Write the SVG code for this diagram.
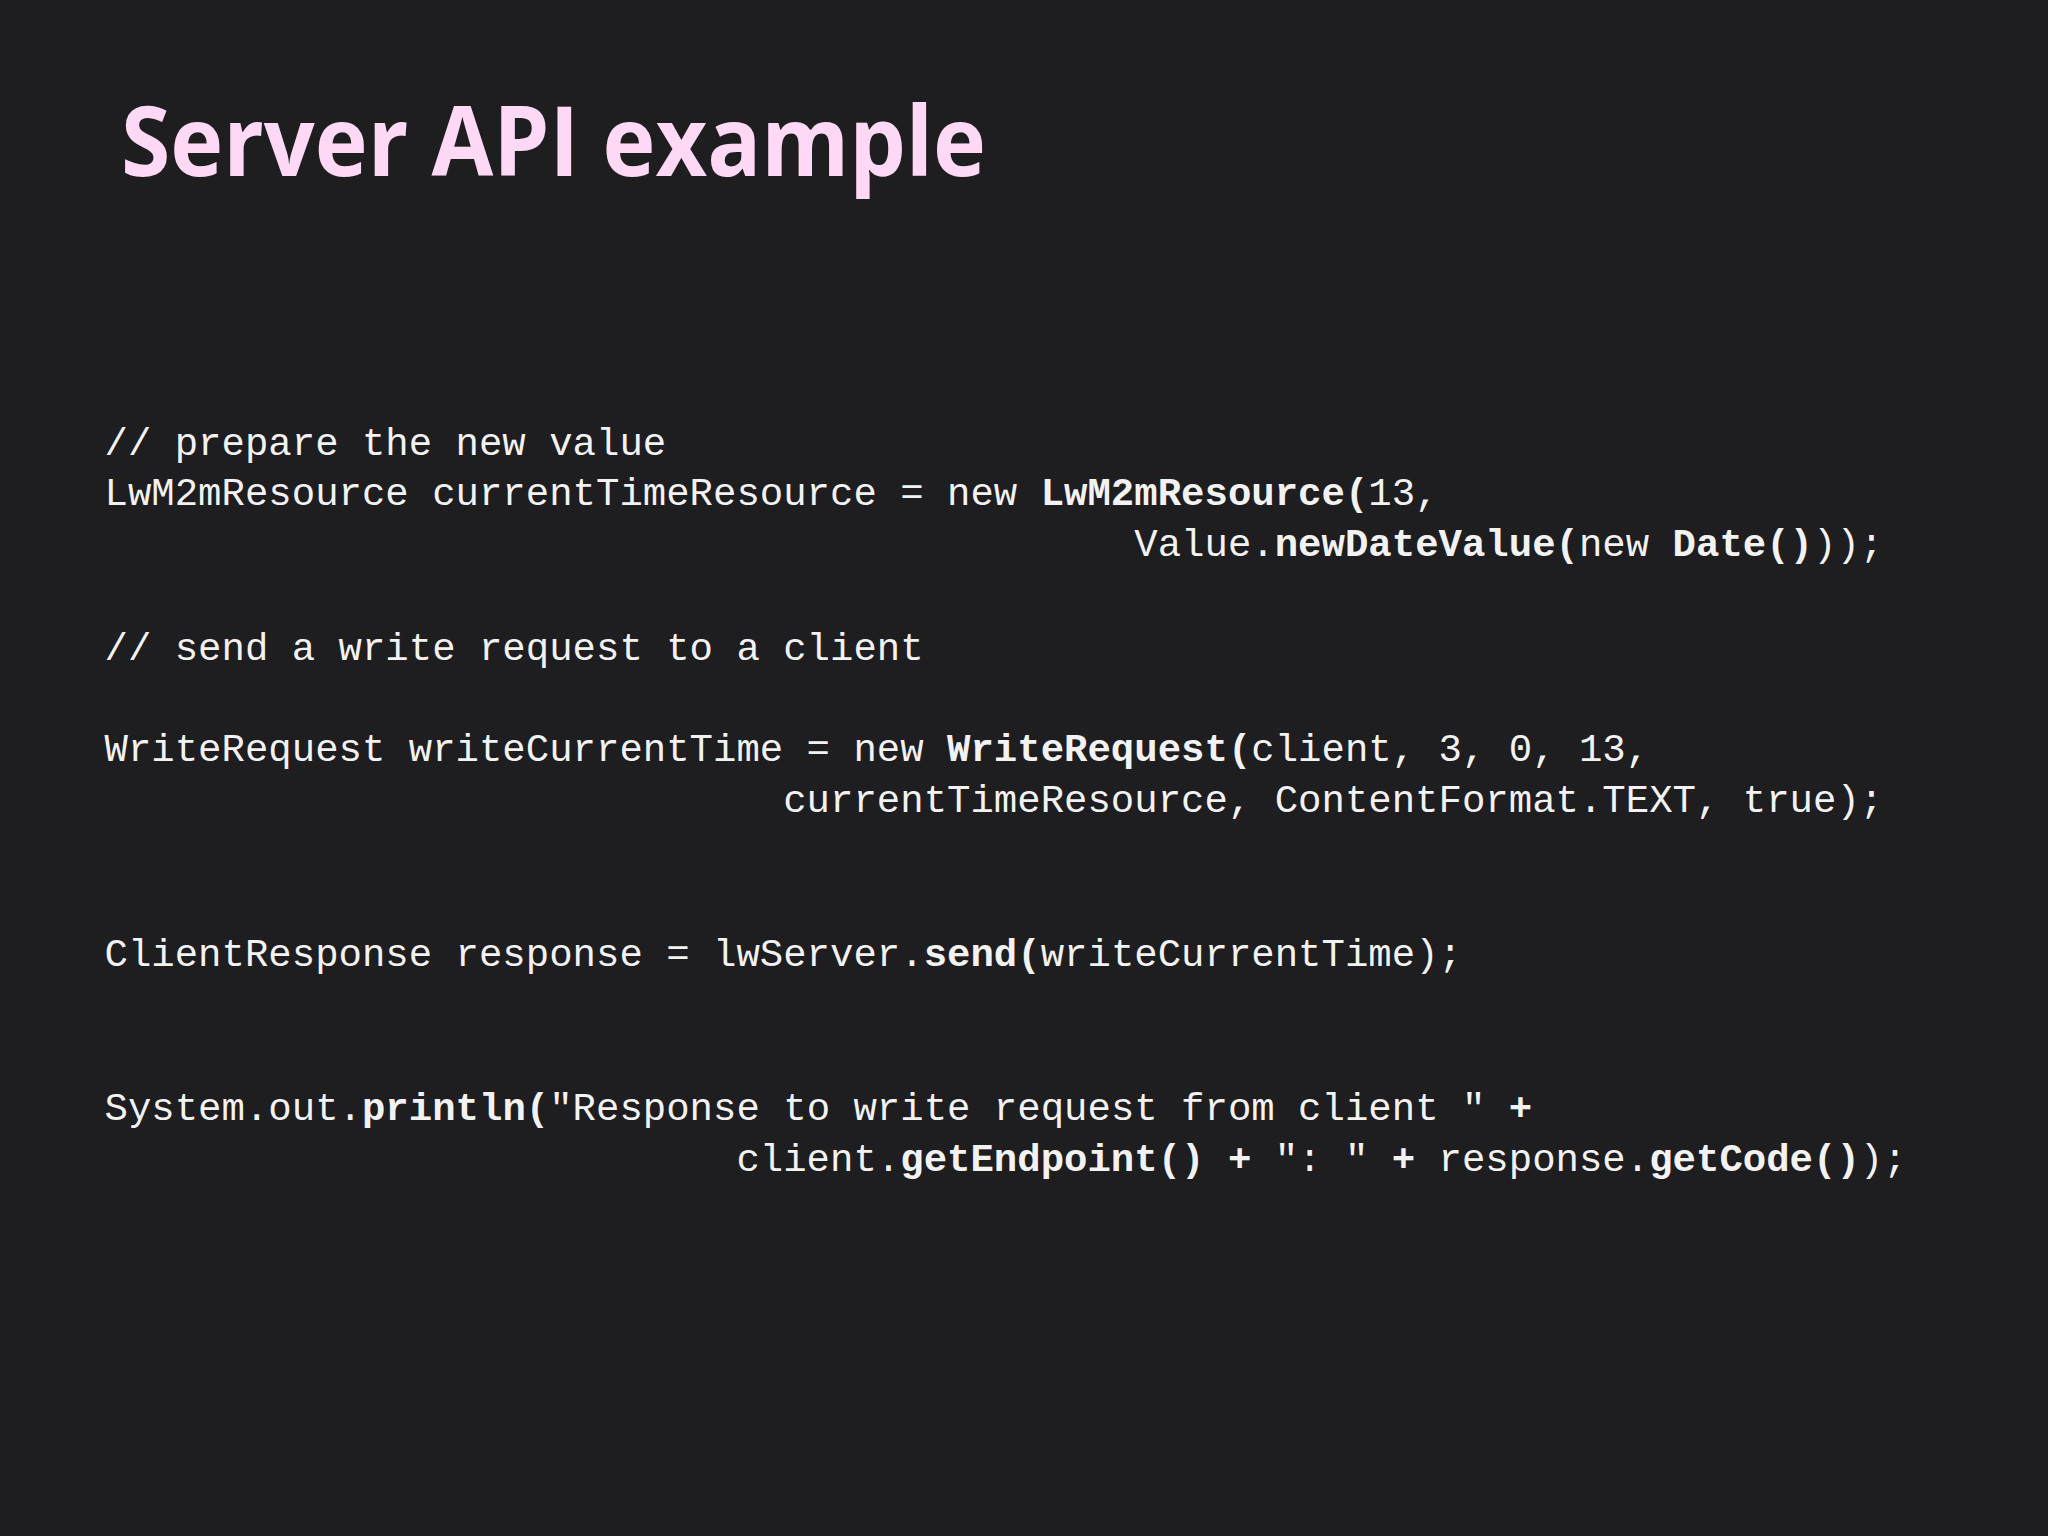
<svg xmlns="http://www.w3.org/2000/svg" width="2048" height="1536" viewBox="0 0 2048 1536">
<style>
.c{font-family:"Liberation Mono","DejaVu Sans Mono",monospace;font-size:39px;fill:#f2f2f2;white-space:pre}
.b{font-weight:bold}
.t{font-family:"Open Sans","Liberation Sans",sans-serif;font-weight:bold;font-size:96px;fill:#fdd9f6}
</style>
<rect width="2048" height="1536" fill="#1e1d20"/>
<text id="title" class="t" x="121" y="176" textLength="865" lengthAdjust="spacingAndGlyphs">Server API example</text>
<g id="code" xml:space="preserve">
<text class="c" x="104.5" y="455">// prepare the new value</text>
<text class="c" x="104.5" y="505">LwM2mResource currentTimeResource = new <tspan class="b">LwM2mResource(</tspan>13,</text>
<text class="c" x="104.5" y="556">                                            Value.<tspan class="b">newDateValue(</tspan>new <tspan class="b">Date()</tspan>));</text>
<text class="c" x="104.5" y="660">// send a write request to a client</text>
<text class="c" x="104.5" y="761">WriteRequest writeCurrentTime = new <tspan class="b">WriteRequest(</tspan>client, 3, 0, 13,</text>
<text class="c" x="104.5" y="812">                             currentTimeResource, ContentFormat.TEXT, true);</text>
<text class="c" x="104.5" y="966">ClientResponse response = lwServer.<tspan class="b">send(</tspan>writeCurrentTime);</text>
<text class="c" x="104.5" y="1120">System.out.<tspan class="b">println(</tspan>"Response to write request from client " <tspan class="b">+</tspan></text>
<text class="c" x="104.5" y="1171">                           client.<tspan class="b">getEndpoint()</tspan> <tspan class="b">+</tspan> ": " <tspan class="b">+</tspan> response.<tspan class="b">getCode()</tspan>);</text>
</g>
</svg>
